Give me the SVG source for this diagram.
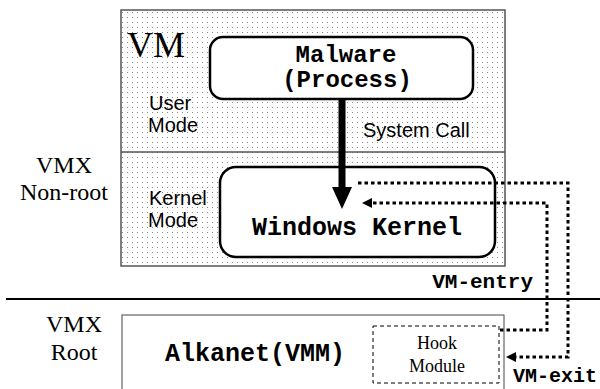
<svg xmlns="http://www.w3.org/2000/svg" width="600" height="389" viewBox="0 0 600 389">
<style>
.serif{font-family:"Liberation Serif","Times New Roman",serif;fill:#000}
.sans{font-family:"Liberation Sans",Arial,sans-serif;fill:#000;font-size:20px}
.mono{font-family:"Liberation Mono","Courier New",monospace;font-weight:bold;fill:#000}
.node{fill:#fff;stroke:#000;stroke-width:2.5}
.dot{fill:none;stroke:#000;stroke-width:3;stroke-dasharray:3.5 3}
</style>
<defs>
<pattern id="dots" width="5" height="5" patternUnits="userSpaceOnUse">
<rect x="2" y="2" width="1" height="1" fill="#888"/>
</pattern>
</defs>
<rect width="600" height="389" fill="#fff"/>
<g id="vm">
<rect x="121" y="10" width="384" height="256" fill="url(#dots)" stroke="#555" stroke-width="1.5"/>
<line x1="121" y1="152" x2="505" y2="152" stroke="#555" stroke-width="1.5"/>
<text x="127" y="57" class="serif" font-size="36">VM</text>
<text x="149" y="110" class="sans">User</text>
<text x="148" y="132" class="sans">Mode</text>
<text x="149" y="205" class="sans">Kernel</text>
<text x="148" y="227" class="sans">Mode</text>
<text x="363" y="137" class="sans">System Call</text>
</g>
<g id="malware">
<rect x="210" y="37" width="263" height="62" rx="13" class="node"/>
<text x="346" y="62" class="mono" font-size="24" text-anchor="middle">Malware</text>
<text x="347" y="87" class="mono" font-size="24" text-anchor="middle">(Process)</text>
</g>
<g id="kernel">
<rect x="220" y="167" width="275" height="90" rx="16" class="node" stroke-width="3"/>
<text x="357" y="235" class="mono" font-size="25" text-anchor="middle">Windows Kernel</text>
</g>
<g id="labels">
<text x="64" y="173" class="serif" font-size="24" text-anchor="middle">VMX</text>
<text x="64" y="200" class="serif" font-size="24" text-anchor="middle">Non-root</text>
<text x="74" y="332" class="serif" font-size="24" text-anchor="middle">VMX</text>
<text x="74" y="360" class="serif" font-size="24" text-anchor="middle">Root</text>
<line x1="6" y1="299" x2="600" y2="299" stroke="#000" stroke-width="2"/>
<text x="533" y="288" class="mono" font-size="21" text-anchor="end">VM-entry</text>
<text x="513" y="382" class="mono" font-size="20">VM-exit</text>
</g>
<g id="alkanet">
<rect x="122" y="315" width="382" height="80" fill="#fff" stroke="#444" stroke-width="1"/>
<text x="255" y="361" class="mono" font-size="25" text-anchor="middle">Alkanet(VMM)</text>
</g>
<g id="hook">
<rect x="373" y="326" width="126" height="57" fill="#fff" stroke="#000" stroke-width="1" stroke-dasharray="4 3"/>
<text x="437" y="349" class="serif" font-size="18" text-anchor="middle">Hook</text>
<text x="437" y="372" class="serif" font-size="18" text-anchor="middle">Module</text>
</g>
<g id="connectors">
<line x1="342" y1="99" x2="342" y2="190" stroke="#000" stroke-width="7"/>
<path d="M332,187 L352,187 L342,209 Z" fill="#000"/>
<path d="M358,183 H568 V357 H512" class="dot"/>
<path d="M506,357 L516,352 L516,362 Z" fill="#000"/>
<path d="M500,330 H547 V203 H372" class="dot"/>
<path d="M362,203 L372,198 L372,208 Z" fill="#000"/>
</g>
</svg>
